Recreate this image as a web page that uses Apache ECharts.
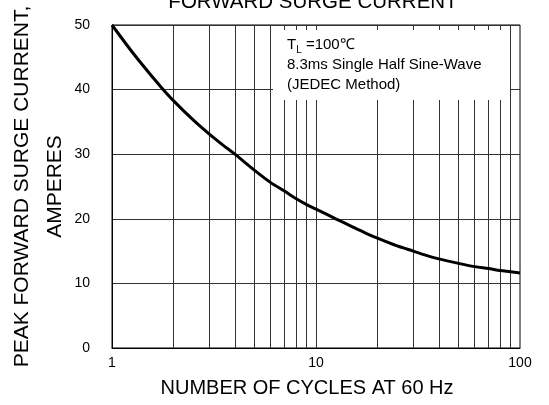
<!DOCTYPE html>
<html>
<head>
<meta charset="utf-8">
<script src="https://cdn.jsdelivr.net/npm/echarts@6/dist/echarts.min.js"></script>
<style>
  html, body { margin: 0; padding: 0; background: #fff; }
  #main { width: 549px; height: 405px; }
</style>
</head>
<body>
<div id="main"></div>
<script>
const chartDom = document.getElementById('main')
let myChart = echarts.init(chartDom)
let option;

// number of cycles (x) and peak current (y)
const cycles = [1, 1.25, 1.5, 1.75, 2, 2.5, 3, 3.5, 4, 5, 6, 7, 8, 9, 10, 12.5, 15, 17.5, 20, 25, 30, 35, 40, 50, 60, 70, 80, 90, 100]
const amperes = [50, 45.9, 42.8, 40.3, 38.3, 35.3, 33.1, 31.4, 30.0, 27.5, 25.6, 24.3, 23.1, 22.2, 21.5, 20.0, 18.8, 17.8, 17.0, 15.8, 15.0, 14.3, 13.8, 13.1, 12.6, 12.3, 12.0, 11.8, 11.6]
// log grid lines between the decades
const gridX = [2, 3, 4, 5, 6, 7, 8, 9, 10, 20, 30, 40, 50, 60, 70, 80, 90]
const noteLines = ['8.3ms Single Half Sine-Wave', '(JEDEC Method)']

const font = 'Liberation Sans, Arial, sans-serif'

option = {
    animation: false,
    backgroundColor: '#fff',
    grid: {
        left: 112, right: 29, top: 25, bottom: 57,
        outerBoundsMode: 'none',
        containLabel: false,
        show: true, borderColor: '#000', borderWidth: 1
    },
    xAxis: {
        type: 'log',
        logBase: 10,
        min: 1,
        max: 100,
        name: 'NUMBER OF CYCLES AT 60 Hz',
        nameLocation: 'middle',
        nameGap: 30,
        nameMoveOverlap: false,
        nameTextStyle: { fontFamily: font, fontSize: 20, color: '#000', padding: [0, 18, 0, 0] },
        axisLine: { lineStyle: { color: '#000' } },
        axisTick: { show: false },
        splitLine: { show: false },
        axisLabel: { fontFamily: font, fontSize: 14, color: '#000', margin: 8 }
    },
    yAxis: {
        type: 'value',
        min: 0,
        max: 50,
        interval: 10,
        name: 'PEAK FORWARD SURGE CURRENT,\nAMPERES',
        nameLocation: 'middle',
        nameRotate: 90,
        nameGap: 40,
        nameMoveOverlap: false,
        nameTextStyle: { fontFamily: font, fontSize: 21, lineHeight: 33, color: '#000', align: 'center' },
        axisLine: { show: true, lineStyle: { color: '#000' } },
        axisTick: { show: false },
        splitLine: { lineStyle: { color: '#333', width: 1 } },
        axisLabel: { fontFamily: font, fontSize: 14, color: '#000', margin: 22, padding: [5, 0, 0, 0] }
    },
    graphic: [
        {
            type: 'text', x: 313, y: 13, z: 20,
            style: {
                text: 'FORWARD SURGE CURRENT', fontFamily: font, fontSize: 20.5, fill: '#000',
                align: 'center', verticalAlign: 'bottom'
            }
        },
        {
            type: 'rect', z: 10,
            shape: { x: 273, y: 30, width: 237, height: 70 },
            style: { fill: '#fff' }
        },
        {
            type: 'text', x: 287, y: 35, z: 20,
            style: {
                text: '{a|T}{b|L}{a| =100℃}\n{a|' + noteLines[0] + '}\n{a|' + noteLines[1] + '}',
                rich: {
                    a: { fontFamily: font, fontSize: 15, lineHeight: 20, fill: '#000' },
                    b: { fontFamily: font, fontSize: 10, lineHeight: 16, fill: '#000', verticalAlign: 'bottom' }
                }
            }
        }
    ],
    series: [
        {
            // helper carrying the vertical grid lines
            type: 'line',
            data: cycles.map((c, i) => [c, amperes[i]]),
            showSymbol: false,
            lineStyle: { opacity: 0 },
            silent: true,
            z: 1,
            markLine: {
                silent: true,
                symbol: 'none',
                label: { show: false },
                lineStyle: { type: 'solid', color: '#333', width: 1 },
                data: gridX.map(v => ({ xAxis: v }))
            }
        },
        {
            type: 'line',
            data: cycles.map((c, i) => [c, amperes[i]]),
            smooth: 0.3,
            showSymbol: false,
            lineStyle: { color: '#000', width: 3 },
            z: 5
        }
    ]
}

option && myChart.setOption(option);
</script>
</body>
</html>
